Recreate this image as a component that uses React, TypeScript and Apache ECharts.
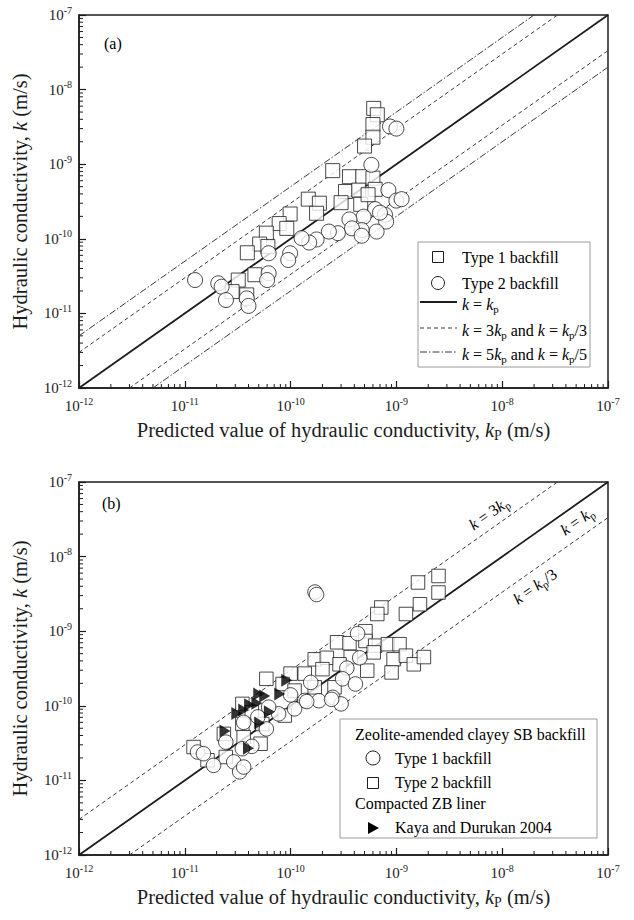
import React, { useEffect, useRef } from 'react';
import * as echarts from 'echarts';

const SERIF = '"Liberation Serif", "Times New Roman", Times, serif';
const INK = '#1c1c1c';
const LINE_GREY = '#3a3a3a';

// ---------------- data (kp, k) in m/s ----------------
// Panel (a)
const panelAType1: number[][] = [
  [6.1e-10, 5.6e-9], [6.6e-10, 4.6e-9], [6.0e-10, 3.4e-9], [6.0e-10, 2.3e-9], [5.0e-10, 1.75e-9],
  [2.5e-10, 8.2e-10], [3.6e-10, 6.8e-10], [4.8e-10, 6.8e-10], [6.0e-10, 6.5e-10], [3.3e-10, 4.3e-10],
  [4.4e-10, 4.5e-10], [6.3e-10, 4.6e-10], [3.0e-10, 3.05e-10], [4.6e-10, 2.9e-10], [5.4e-10, 3.9e-10],
  [1.47e-10, 3.4e-10], [1.87e-10, 3.0e-10], [1.76e-10, 2.2e-10], [9.9e-11, 2.15e-10], [7.8e-11, 1.6e-10],
  [9.2e-11, 1.38e-10], [5.9e-11, 1.19e-10], [5.1e-11, 8.5e-11], [6.1e-11, 7.9e-11], [3.9e-11, 6.5e-11],
  [4.6e-11, 3.3e-11], [3.2e-11, 2.8e-11], [2.8e-11, 1.96e-11], [3.85e-11, 1.77e-11],
];
const panelAType2: number[][] = [
  [8.7e-10, 3.2e-9], [1.0e-9, 3.0e-9], [5.8e-10, 9.8e-10], [8.4e-10, 4.5e-10], [1.0e-9, 3.25e-10],
  [1.12e-9, 3.4e-10], [6.3e-10, 2.5e-10], [7.8e-10, 2.1e-10], [8.0e-10, 1.7e-10], [6.5e-10, 1.25e-10],
  [4.9e-10, 1.98e-10], [4.7e-10, 1.31e-10], [3.6e-10, 1.82e-10], [3.8e-10, 1.38e-10], [2.8e-10, 1.19e-10],
  [2.3e-10, 1.25e-10], [1.76e-10, 9.8e-11], [1.5e-10, 8.9e-11], [1.27e-10, 1.02e-10], [9.9e-11, 6.4e-11],
  [9.5e-11, 5.2e-11], [6.2e-11, 6.4e-11], [6.2e-11, 3.45e-11], [6.0e-11, 2.8e-11], [1.25e-11, 2.8e-11],
  [2.07e-11, 2.53e-11], [2.23e-11, 2.28e-11], [2.45e-11, 1.51e-11], [3.85e-11, 1.59e-11], [4.0e-11, 1.26e-11],
  [7.0e-10, 2.24e-10], [4.7e-10, 1.1e-10],
];
// Panel (b)
const panelBType1: number[][] = [
  [1.7e-10, 3.35e-9], [1.76e-10, 3.1e-9], [4.3e-10, 9.3e-10], [4.5e-10, 4.4e-10], [3.4e-10, 3.2e-10],
  [3.1e-10, 2.3e-10], [4.1e-10, 1.96e-10], [2.5e-10, 1.3e-10], [3.0e-10, 1.06e-10], [1.85e-10, 1.17e-10],
  [1.55e-10, 2.06e-10], [1.36e-10, 1.18e-10], [1.09e-10, 9.1e-11], [1.0e-10, 1.4e-10], [7.7e-11, 7.8e-11],
  [6.2e-11, 9.6e-11], [5.9e-11, 4.9e-11], [4.9e-11, 7.1e-11], [3.6e-11, 6.0e-11], [4.3e-11, 2.86e-11],
  [3.5e-11, 2.66e-11], [2.44e-11, 3.26e-11], [2.9e-11, 1.77e-11], [3.3e-11, 1.3e-11], [3.6e-11, 1.51e-11],
  [1.32e-11, 2.4e-11], [1.87e-11, 1.59e-11], [1.5e-11, 2.28e-11], [2.44e-10, 1.22e-10], [1.42e-10, 1.14e-10],
];
const panelBType2: number[][] = [
  [2.5e-9, 5.5e-9], [1.6e-9, 4.5e-9], [2.5e-9, 3.3e-9], [1.67e-9, 2.3e-9], [7.2e-10, 2.08e-9],
  [6.6e-10, 1.7e-9], [1.23e-9, 1.7e-9], [5.1e-10, 1.0e-9], [5.1e-10, 7.4e-10], [2.75e-10, 7.1e-10],
  [3.6e-10, 6.9e-10], [6.3e-10, 6.4e-10], [8.3e-10, 6.7e-10], [1.07e-9, 6.7e-10], [6.1e-10, 5.2e-10],
  [9.4e-10, 4.2e-10], [1.23e-9, 4.7e-10], [1.46e-9, 3.6e-10], [1.82e-9, 4.5e-10], [5.3e-10, 2.96e-10],
  [9.0e-10, 2.8e-10], [1.69e-10, 4.2e-10], [2.2e-10, 4.4e-10], [3.7e-10, 4.5e-10], [2.9e-10, 3.6e-10],
  [2.0e-10, 3.1e-10], [1.0e-10, 2.7e-10], [1.36e-10, 2.7e-10], [5.9e-11, 2.3e-10], [8.4e-11, 1.96e-10],
  [1.09e-10, 1.6e-10], [2.6e-10, 1.77e-10], [1.69e-10, 1.77e-10], [8.8e-11, 7.4e-11], [3.5e-11, 1.06e-10],
  [4.3e-11, 8.2e-11], [3.5e-11, 5.7e-11], [5.4e-11, 5.7e-11], [3.6e-11, 3.8e-11], [5.2e-11, 3.1e-11],
  [2.34e-11, 4.2e-11], [1.21e-11, 2.8e-11], [1.64e-11, 1.86e-11], [2.44e-11, 2.06e-11],
];
const panelBKaya: number[][] = [
  [9.2e-11, 2.2e-10], [5.0e-11, 1.44e-10], [5.7e-11, 1.35e-10], [4.8e-11, 1.08e-10], [7.9e-11, 1.44e-10],
  [3.1e-11, 7.9e-11], [3.6e-11, 8.8e-11], [4.1e-11, 1.03e-10], [6.3e-11, 8.3e-11], [5.1e-11, 5.9e-11],
  [2.4e-11, 4.6e-11], [4.0e-11, 2.7e-11],
];

// reference lines (endpoints on the plot frame)
const lineEqual = [[1e-12, 1e-12], [1e-7, 1e-7]];
const lineTimes3 = [[1e-12, 3e-12], [3.333e-8, 1e-7]];
const lineDiv3 = [[3e-12, 1e-12], [1e-7, 3.333e-8]];
const lineTimes5 = [[1e-12, 5e-12], [2e-8, 1e-7]];
const lineDiv5 = [[5e-12, 1e-12], [1e-7, 2e-8]];

// axis
const axisMin = 1e-12;
const axisMax = 1e-7;
const minorDecades = [-12, -11, -10, -9, -8];
const minorMultipliers = [2, 3, 4, 5, 6, 7, 8, 9];

// kp positions of the line labels in panel (b): k = 3kp, k = kp, k = kp/3
const panelBLabelKp = [8.9e-9, 4.28e-8, 1.71e-8];
const panelBLabelFactor = [3, 1, 1 / 3];

// ---------------- helpers ----------------
const rich = (size: number, lh: number) => ({
  n: { fontFamily: SERIF, fontSize: size, color: INK, lineHeight: lh },
  i: { fontFamily: SERIF, fontSize: size, color: INK, lineHeight: lh, fontStyle: 'italic' },
  sub: { fontFamily: SERIF, fontSize: Math.round(size * 0.68), color: INK, lineHeight: Math.round(lh * 0.5), verticalAlign: 'bottom' },
  sup: { fontFamily: SERIF, fontSize: Math.round(size * 0.68), color: INK, lineHeight: Math.round(lh * 0.5), verticalAlign: 'top' },
});

const makeX = (gridIndex: number) => ({
  type: 'log', logBase: 10, gridIndex, min: axisMin, max: axisMax, splitNumber: 5,
  name: '{n|Predicted value of hydraulic conductivity, }{i|k}{sub|P}{n| (m/s)}',
  nameLocation: 'middle', nameGap: 29,
  nameTextStyle: { rich: rich(20.5, 25) },
  axisLine: { show: true, onZero: false, lineStyle: { color: INK, width: 1.5 } },
  axisTick: { show: true, inside: true, length: 7, lineStyle: { color: INK, width: 1.2 } },
  axisLabel: {
    margin: 8, showMinLabel: true, showMaxLabel: true,
    formatter: (v: number) => `{n|10}{sup|${Math.round(Math.log10(v))}}`,
    rich: rich(15, 20),
  },
  splitLine: { show: false },
});

const makeY = (gridIndex: number) => ({
  type: 'log', logBase: 10, gridIndex, min: axisMin, max: axisMax, splitNumber: 5,
  name: '{n|Hydraulic conductivity, }{i|k}{n| (m/s)}',
  nameLocation: 'middle', nameGap: 47, nameRotate: 90,
  nameTextStyle: { rich: rich(20.5, 25) },
  axisLine: { show: true, onZero: false, lineStyle: { color: INK, width: 1.5 } },
  axisTick: { show: true, inside: true, length: 7, lineStyle: { color: INK, width: 1.2 } },
  axisLabel: {
    margin: 7, showMinLabel: true, showMaxLabel: true,
    formatter: (v: number) => `{n|10}{sup|${Math.round(Math.log10(v))}}`,
    rich: rich(15, 20),
  },
  splitLine: { show: false },
});

const minorTickData = minorDecades.flatMap((d) =>
  minorMultipliers.map((m) => {
    const v = Number((m * Math.pow(10, d)).toPrecision(2));
    return [v, v];
  })
);

const minorTickSeries = (idx: number) => ({
  type: 'custom', xAxisIndex: idx, yAxisIndex: idx, silent: true, clip: false, z: 5,
  data: minorTickData,
  renderItem: (params: any, api: any) => {
    const v = api.value(0);
    const cs = params.coordSys;
    const px = api.coord([v, axisMin])[0];
    const py = api.coord([axisMin, v])[1];
    const bottom = cs.y + cs.height;
    return {
      type: 'group',
      children: [
        { type: 'line', shape: { x1: px, y1: bottom, x2: px, y2: bottom - 4 }, style: { stroke: INK, lineWidth: 1 } },
        { type: 'line', shape: { x1: cs.x, y1: py, x2: cs.x + 4, y2: py }, style: { stroke: INK, lineWidth: 1 } },
      ],
    };
  },
});

const refLine = (data: number[][], idx: number, lineStyle: any) => ({
  type: 'line', xAxisIndex: idx, yAxisIndex: idx, data, symbol: 'none', silent: true, z: 1,
  lineStyle, animation: false,
});

const solidStyle = { color: INK, width: 1.8, type: 'solid' };
const dashStyle = { color: LINE_GREY, width: 1, type: [4, 3] };
const dashDotStyle = { color: LINE_GREY, width: 1, type: [7, 2, 1.5, 2] };

const markerStyle = { color: '#ffffff', borderColor: INK, borderWidth: 1 };
const scatter = (data: number[][], idx: number, symbol: string, size: number, name: string) => ({
  type: 'scatter', name, xAxisIndex: idx, yAxisIndex: idx, data, symbol, symbolSize: size,
  itemStyle: markerStyle, silent: true, z: 3,
});

const TRIANGLE = 'path://M0,0 L10,6 L0,12 Z';

export default function App() {
  const ref = useRef<HTMLDivElement>(null);

  useEffect(() => {
    if (!ref.current) return;
    const chart = echarts.init(ref.current, undefined, { renderer: 'svg' });
    chart.setOption({
      animation: false,
      backgroundColor: '#ffffff',
      grid: [
        { left: 79, top: 15, width: 529, height: 373, show: true, borderColor: INK, borderWidth: 1.5, backgroundColor: 'transparent' },
        { left: 79, top: 482, width: 529, height: 373, show: true, borderColor: INK, borderWidth: 1.5, backgroundColor: 'transparent' },
      ],
      xAxis: [makeX(0), makeX(1)],
      yAxis: [makeY(0), makeY(1)],
      series: [
        refLine(lineEqual, 0, solidStyle),
        refLine(lineTimes3, 0, dashStyle),
        refLine(lineDiv3, 0, dashStyle),
        refLine(lineTimes5, 0, dashDotStyle),
        refLine(lineDiv5, 0, dashDotStyle),
        scatter(panelAType1, 0, 'rect', 14, 'Type 1 backfill'),
        scatter(panelAType2, 0, 'circle', 15, 'Type 2 backfill'),
        minorTickSeries(0),

        refLine(lineEqual, 1, solidStyle),
        refLine(lineTimes3, 1, dashStyle),
        refLine(lineDiv3, 1, dashStyle),
        scatter(panelBType2, 1, 'rect', 13.5, 'Type 2 backfill (b)'),
        scatter(panelBType1, 1, 'circle', 14.5, 'Type 1 backfill (b)'),
        {
          type: 'scatter', name: 'Kaya and Durukan 2004', xAxisIndex: 1, yAxisIndex: 1, data: panelBKaya,
          symbol: TRIANGLE, symbolSize: [11, 13], itemStyle: { color: '#000' }, silent: true, z: 4,
        },
        minorTickSeries(1),
      ],
    });

    // ---- annotations / legends ----
    const conv = (gi: number, pt: number[]) => chart.convertToPixel({ xAxisIndex: gi, yAxisIndex: gi }, pt) as number[];
    const p1 = conv(1, lineEqual[0]);
    const p2 = conv(1, lineEqual[1]);
    const theta = Math.atan2(p1[1] - p2[1], p2[0] - p1[0]);
    const lr = rich(16, 20);
    const labelTexts = [
      '{i|k}{n| = 3}{i|k}{sub|p}',
      '{i|k}{n| = }{i|k}{sub|p}',
      '{i|k}{n| = }{i|k}{sub|p}{n|/3}',
    ];
    const labelSide = [-1, 1, 1];
    const lineLabels = panelBLabelKp.map((kp, i) => {
      const foot = conv(1, [kp, kp * panelBLabelFactor[i]]);
      const d = 14 * labelSide[i];
      return {
        type: 'text', x: foot[0] + Math.sin(theta) * d, y: foot[1] + Math.cos(theta) * d, rotation: theta, z: 10,
        style: { text: labelTexts[i], rich: lr, align: 'center', verticalAlign: 'middle' },
      };
    });

    const txt = (x: number, y: number, text: string) => ({
      type: 'text', x, y, z: 20, style: { text, rich: lr, align: 'left', verticalAlign: 'middle' },
    });

    const graphic: any[] = [
      txt(104, 43, '{n|(a)}'),
      txt(102, 503, '{n|(b)}'),
      // legend (a)
      { type: 'rect', z: 15, shape: { x: 418, y: 242, width: 172, height: 125 }, style: { fill: '#fff', stroke: '#9a9a9a', lineWidth: 1 } },
      { type: 'rect', z: 20, shape: { x: 432.5, y: 251.5, width: 11, height: 11 }, style: { fill: '#fff', stroke: INK, lineWidth: 1 } },
      { type: 'circle', z: 20, shape: { cx: 438, cy: 283, r: 6.5 }, style: { fill: '#fff', stroke: INK, lineWidth: 1 } },
      { type: 'line', z: 20, shape: { x1: 420, y1: 302, x2: 457, y2: 302 }, style: { stroke: INK, lineWidth: 1.8 } },
      { type: 'line', z: 20, shape: { x1: 420, y1: 328, x2: 457, y2: 328 }, style: { stroke: LINE_GREY, lineWidth: 1, lineDash: [4, 3] } },
      { type: 'line', z: 20, shape: { x1: 420, y1: 352, x2: 457, y2: 352 }, style: { stroke: LINE_GREY, lineWidth: 1, lineDash: [7, 2, 1.5, 2] } },
      txt(462, 257, '{n|Type 1 backfill}'),
      txt(462, 283, '{n|Type 2 backfill}'),
      txt(462, 304, '{i|k}{n| = }{i|k}{sub|p}'),
      txt(462, 330, '{i|k}{n| = 3}{i|k}{sub|p}{n| and }{i|k}{n| = }{i|k}{sub|p}{n|/3}'),
      txt(462, 354, '{i|k}{n| = 5}{i|k}{sub|p}{n| and }{i|k}{n| = }{i|k}{sub|p}{n|/5}'),
      // legend (b)
      { type: 'rect', z: 15, shape: { x: 340, y: 719, width: 257, height: 119 }, style: { fill: '#fff', stroke: '#9a9a9a', lineWidth: 1 } },
      txt(355, 734, '{n|Zeolite-amended clayey SB backfill}'),
      { type: 'circle', z: 20, shape: { cx: 373, cy: 758, r: 7 }, style: { fill: '#fff', stroke: INK, lineWidth: 1 } },
      txt(395, 758, '{n|Type 1 backfill}'),
      { type: 'rect', z: 20, shape: { x: 367.5, y: 777.5, width: 11, height: 11 }, style: { fill: '#fff', stroke: INK, lineWidth: 1 } },
      txt(395, 782, '{n|Type 2 backfill}'),
      txt(355, 803, '{n|Compacted ZB liner}'),
      { type: 'polygon', z: 20, shape: { points: [[368, 822], [379, 828], [368, 834]] }, style: { fill: '#000' } },
      txt(395, 827, '{n|Kaya and Durukan 2004}'),
      ...lineLabels,
    ];
    chart.setOption({ graphic });

    return () => chart.dispose();
  }, []);

  return <div ref={ref} style={{ position: 'absolute', left: 0, top: 0, width: 634, height: 920 }} />;
}
